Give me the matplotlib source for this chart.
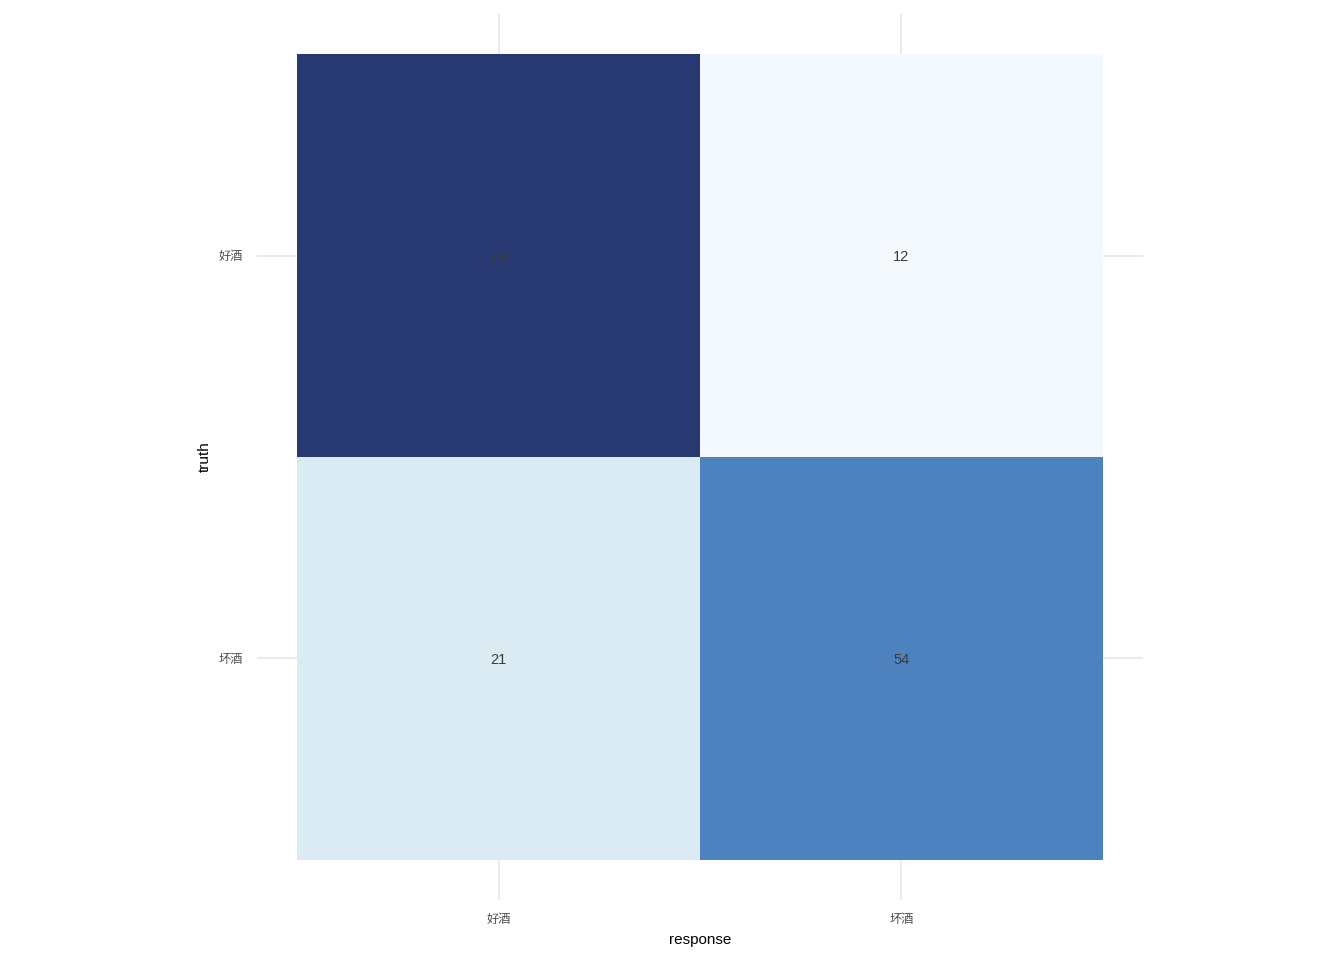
import numpy as np
import matplotlib
matplotlib.use("Agg")
import matplotlib.pyplot as plt
from matplotlib.colors import LinearSegmentedColormap, Normalize

plt.rcParams['font.family'] = ['Liberation Sans', 'Noto Sans CJK SC', 'DejaVu Sans']

# 混淆矩阵数据
response_labels = ["好酒", "坏酒"]
truth_labels = ["好酒", "坏酒"]
counts = np.array([[74, 12],
                   [21, 54]])

# 颜色映射 (低 -> 高)
vmin, vmax = counts.min(), counts.max()
nodes = [(0.0, "#f4f9fe"), (9 / 62, "#daebf4"), (42 / 62, "#4e82bf"), (1.0, "#283870")]
cmap = LinearSegmentedColormap.from_list("blues_cm", nodes)
norm = Normalize(vmin=vmin, vmax=vmax)

fig = plt.figure(figsize=(13.44, 9.6), dpi=100)
ax = fig.add_axes([257 / 1344, 60 / 960, 886 / 1344, 886 / 960])

xs = np.arange(1, len(response_labels) + 1)
ys = np.arange(1, len(truth_labels) + 1)

# 网格线
for x in xs:
    ax.axvline(x, color="#ebebeb", lw=1.5, zorder=0)
for y in ys:
    ax.axhline(y, color="#ebebeb", lw=1.5, zorder=0)

# truth: 好酒 在上, 坏酒 在下
for i, t in enumerate(truth_labels):
    yc = len(truth_labels) - i
    for j, r in enumerate(response_labels):
        xc = j + 1
        v = counts[i, j]
        ax.add_patch(plt.Rectangle((xc - 0.5, yc - 0.5), 1, 1,
                                   facecolor=cmap(norm(v)), edgecolor="none", zorder=1))
        ax.text(xc, yc - 0.004, str(v), ha="center", va="center", fontsize=10.5,
                color="#3b3b3b", zorder=2)

ax.set_xlim(0.4, 2.6)
ax.set_ylim(0.4, 2.6)
ax.set_xticks(xs)
ax.set_xticklabels(response_labels)
ax.set_yticks(ys)
ax.set_yticklabels(truth_labels[::-1])
ax.tick_params(length=0, labelsize=8.8, labelcolor="#4d4d4d")
ax.tick_params(axis="x", pad=10)
ax.tick_params(axis="y", pad=10)
for s in ax.spines.values():
    s.set_visible(False)

ax.set_xlabel("response", fontsize=11, labelpad=5)
ax.set_ylabel("truth", fontsize=11, labelpad=5)

fig.savefig("out.png", dpi=100)
